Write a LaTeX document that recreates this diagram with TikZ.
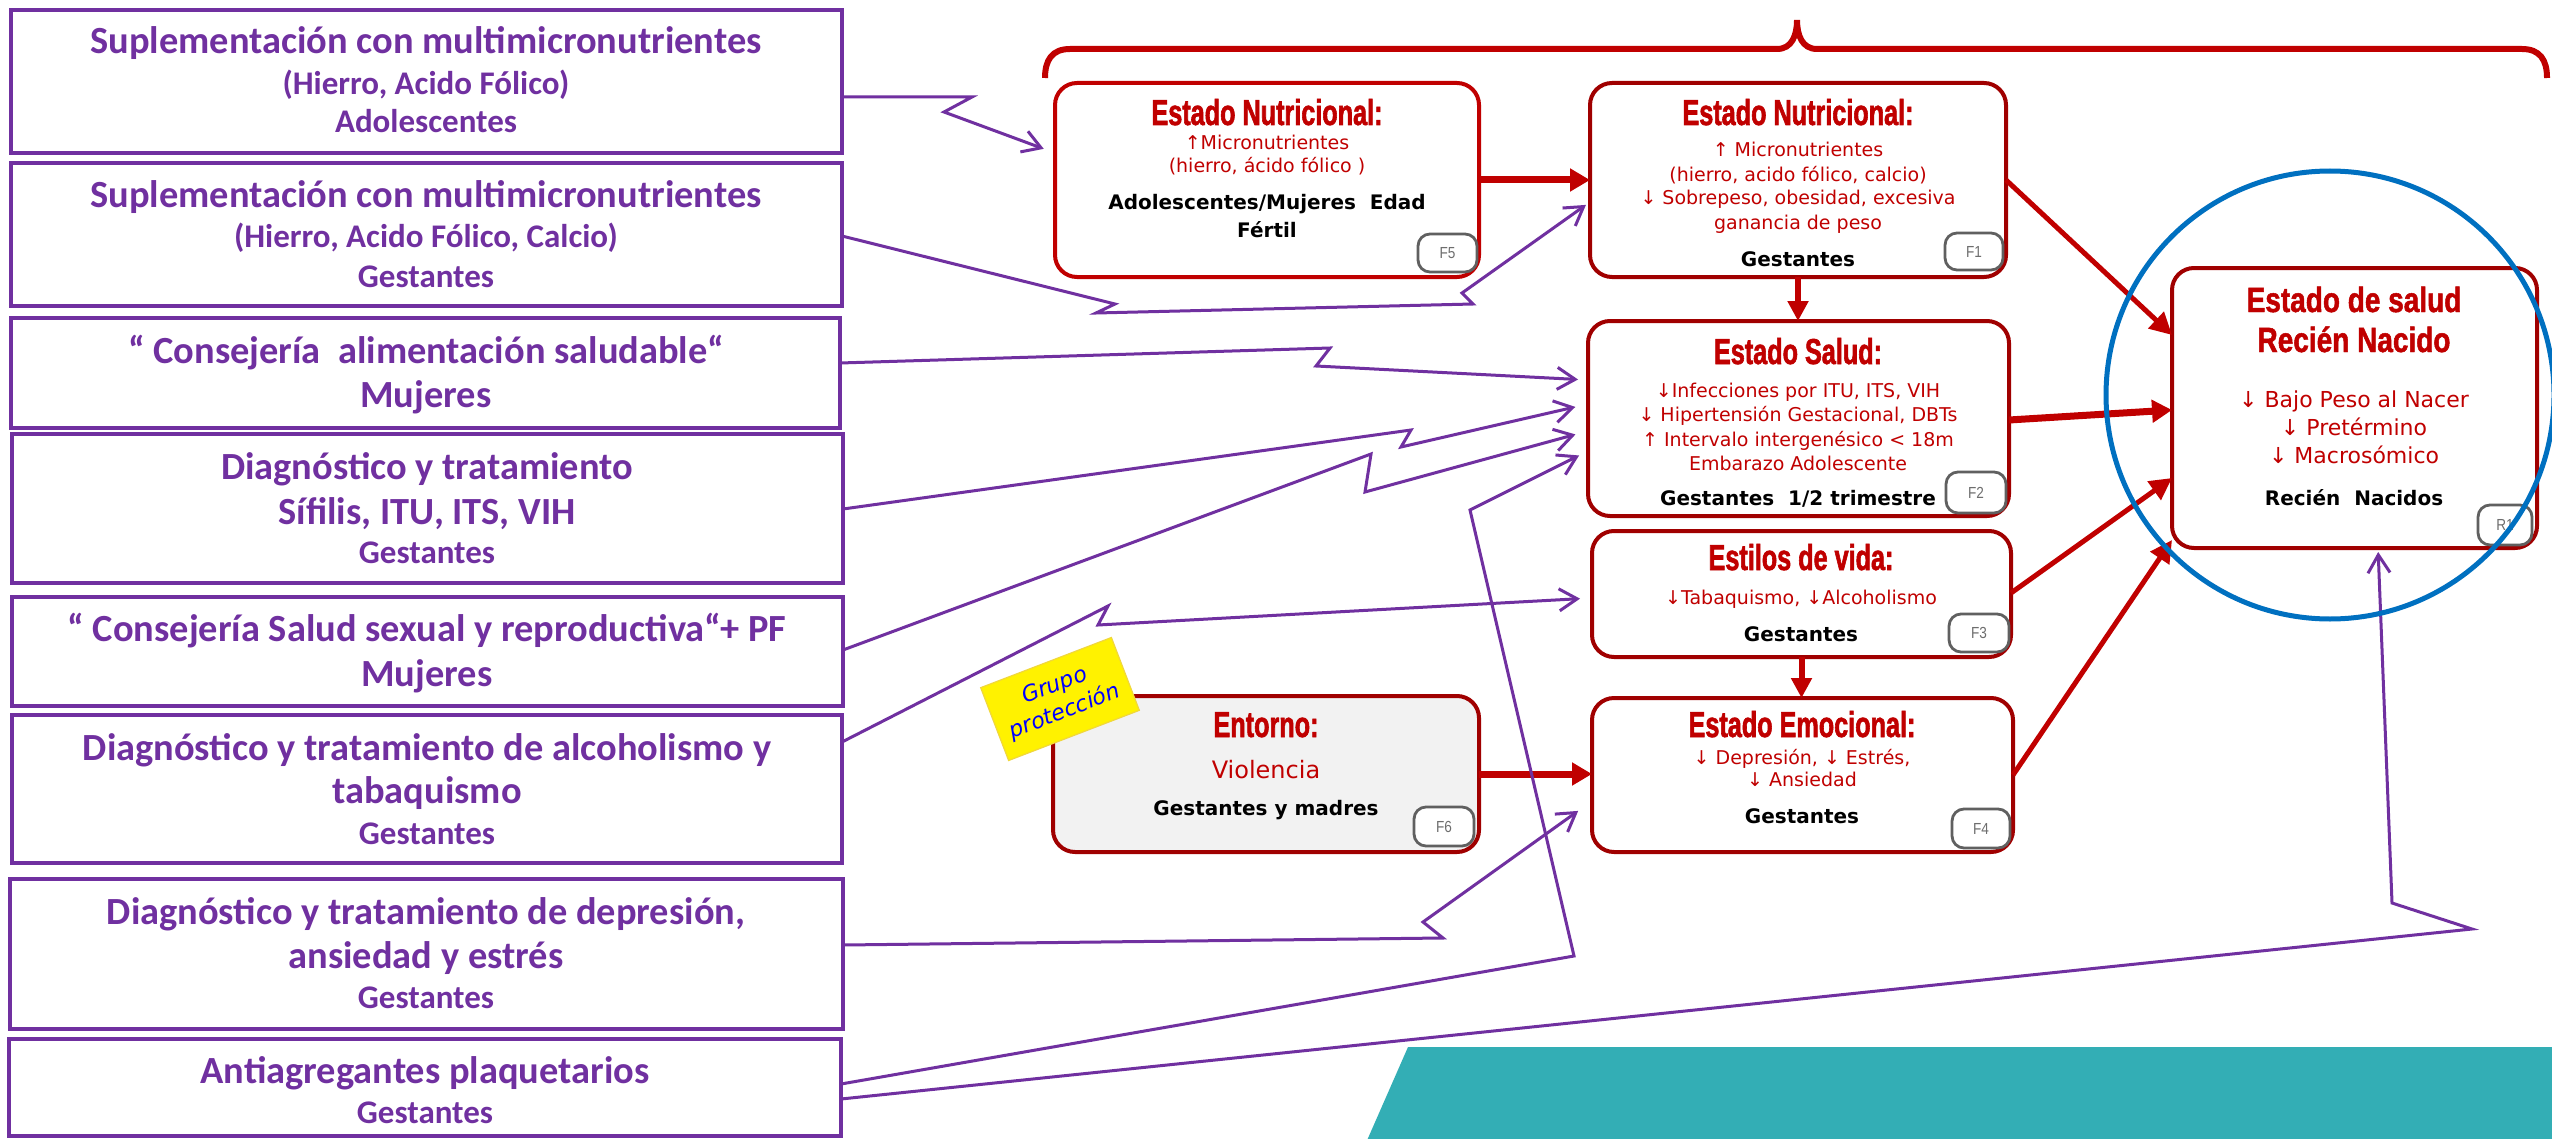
\documentclass[tikz,border=0pt]{standalone}
\usepackage{fontspec}
\setmainfont{DejaVu Sans}
\newfontfamily\calib{Carlito}
\newfontfamily\ttlf{Liberation Sans}[FakeStretch=0.7,FakeBold=1.6]
\newfontfamily\rttlf{Liberation Sans}[FakeStretch=0.8,FakeBold=1.4]
\newfontfamily\dvf{DejaVu Sans}
\newfontfamily\tagfont{Liberation Sans}[FakeStretch=0.85]
\usetikzlibrary{arrows.meta,fit,calc}
\definecolor{pur}{RGB}{112,48,160}
\definecolor{rd}{RGB}{192,0,0}
\definecolor{drd}{RGB}{160,0,0}
\definecolor{blu}{RGB}{0,112,192}
\definecolor{tealc}{RGB}{51,174,181}
\definecolor{taggray}{RGB}{96,96,96}
\definecolor{tagtxt}{RGB}{110,110,110}
\definecolor{lgray}{RGB}{242,242,242}
\begin{document}
\begin{tikzpicture}[x=0.5pt,y=-0.5pt,
  lbox/.style={draw=pur, line width=2pt, inner sep=0pt, outer sep=0pt},
  fbox/.style={draw=drd, line width=2pt, rounded corners=11pt, inner sep=0pt, outer sep=0pt, fill=white},
  tagbox/.style={draw=taggray, line width=1.4pt, rounded corners=6pt, fill=white, inner sep=0pt, outer sep=0pt},
  tagtx/.style={inner sep=0pt, text=tagtxt, font=\tagfont\fontsize{8}{9}\selectfont},
  lt/.style={anchor=base, inner sep=0pt, text=pur, font=\calib\bfseries\fontsize{19.2}{21}\selectfont},
  ls/.style={anchor=base, inner sep=0pt, text=pur, font=\calib\bfseries\fontsize{16.5}{18}\selectfont},
  ttl/.style={anchor=base, inner sep=0pt, text=rd, font=\ttlf\bfseries\fontsize{18}{20}\selectfont},
  rttl/.style={anchor=base, inner sep=0pt, text=rd, font=\rttlf\bfseries\fontsize{17.5}{19}\selectfont},
  rt/.style={anchor=base, inner sep=0pt, text=rd, font=\dvf\fontsize{9.5}{11}\selectfont},
  rtb/.style={anchor=base, inner sep=0pt, text=rd, font=\dvf\fontsize{11}{13}\selectfont},
  rtv/.style={anchor=base, inner sep=0pt, text=rd, font=\dvf\fontsize{12}{14}\selectfont},
  bt/.style={anchor=base, inner sep=0pt, text=black, font=\dvf\bfseries\fontsize{10}{12}\selectfont},
  thickarr/.style={draw=rd, line width=3.5pt, -{Triangle[length=10pt,width=11pt]}},
  medarr/.style={draw=rd, line width=3pt, -{Triangle[length=10pt,width=10pt]}},
  rarr/.style={draw=rd, line width=2.5pt, -{Triangle[length=11pt,width=11pt]}},
  parr/.style={draw=pur, line width=1.5pt, -{Straight Barb[length=9pt,width=11pt]}},
  note/.style={fill=yellow, draw={rgb,255:red,240;green,215;blue,60}, line width=0.6pt, inner sep=0pt, text=blue, font=\dvf\itshape\fontsize{11}{14}\selectfont, align=center}
]
\useasboundingbox (0,0) rectangle (2552,1139);
\fill[white] (0,0) rectangle (2552,1139);
\fill[tealc] (1408,1047) -- (2560,1047) -- (2560,1145) -- (1365,1145) -- cycle;

% ---------- left boxes ----------
\node[lbox, fit={(11,10)(842,153)}] (b1) {};
\node[lt] (b1a) at (426,54) {Suplementación con multimicronutrientes};
\node[ls] (b1b) at (426,95) {(Hierro, Acido Fólico)};
\node[ls] (b1c) at (426,133) {Adolescentes};

\node[lbox, fit={(11,163)(842,306)}] (b2) {};
\node[lt] (b2a) at (426,208) {Suplementación con multimicronutrientes};
\node[ls] (b2b) at (426,248) {(Hierro, Acido Fólico, Calcio)};
\node[ls] (b2c) at (426,287) {Gestantes};

\node[lbox, fit={(11,318)(840,428)}] (b3) {};
\node[lt] (b3a) at (426,363) {“\ Consejería\ \ alimentación saludable“};
\node[lt] (b3b) at (426,407) {Mujeres};

\node[lbox, fit={(12,434)(843,583)}] (b4) {};
\node[lt] (b4a) at (427,479) {Diagnóstico y tratamiento};
\node[lt] (b4b) at (427,524) {Sífilis, ITU, ITS, VIH};
\node[ls] (b4c) at (427,563) {Gestantes};

\node[lbox, fit={(12,597)(843,706)}] (b5) {};
\node[lt] (b5a) at (427,641) {“ Consejería Salud sexual y reproductiva“+ PF};
\node[lt] (b5b) at (427,686) {Mujeres};

\node[lbox, fit={(12,715)(842,863)}] (b6) {};
\node[lt] (b6a) at (427,760) {Diagnóstico y tratamiento de alcoholismo y};
\node[lt] (b6b) at (427,803) {tabaquismo};
\node[ls] (b6c) at (427,844) {Gestantes};

\node[lbox, fit={(10,879)(843,1029)}] (b7) {};
\node[lt] (b7a) at (426,924) {Diagnóstico y tratamiento de depresión,};
\node[lt] (b7b) at (426,968) {ansiedad y estrés};
\node[ls] (b7c) at (426,1008) {Gestantes};

\node[lbox, fit={(9,1039)(841,1136)}] (b8) {};
\node[lt] (b8a) at (425,1083) {Antiagregantes plaquetarios};
\node[ls] (b8b) at (425,1123) {Gestantes};

% ---------- brace ----------
\draw[rd, line width=3pt] (1045,78) .. controls (1045,60) and (1052,49) .. (1070,49)
  -- (1777,49) .. controls (1792,49) and (1797,35) .. (1797,20)
  .. controls (1797,35) and (1802,49) .. (1817,49)
  -- (2522,49) .. controls (2540,49) and (2547,60) .. (2547,78);

% ---------- factor boxes ----------
\node[fbox, draw=rd, fit={(1055,83)(1479,277)}] (F5) {};
\node[ttl] (F5h) at (1267,125) {Estado Nutricional:};
\node[rt] (F5a) at (1267,150) {↑Micronutrientes};
\node[rt] (F5b) at (1267,173) {(hierro, ácido fólico )};
\node[bt] (F5c) at (1267,210) {Adolescentes/Mujeres\ \ Edad};
\node[bt] (F5d) at (1267,238) {Fértil};

\node[fbox, fit={(1590,83)(2006,277)}] (F1) {};
\node[ttl] (F1h) at (1798,125) {Estado Nutricional:};
\node[rt] (F1a) at (1798,157) {↑ Micronutrientes};
\node[rt] (F1b) at (1798,182) {(hierro, acido fólico, calcio)};
\node[rt] (F1c) at (1798,205) {↓ Sobrepeso, obesidad, excesiva};
\node[rt] (F1d) at (1798,230) {ganancia de peso};
\node[bt] (F1e) at (1798,266) {Gestantes};

\node[fbox, fit={(1588,321)(2009,516)}] (F2) {};
\node[ttl] (F2h) at (1798,364) {Estado Salud:};
\node[rt] (F2a) at (1798,397) {↓Infecciones por ITU, ITS, VIH};
\node[rt] (F2b) at (1798,421) {↓ Hipertensión Gestacional, DBTs};
\node[rt] (F2c) at (1798,446) {↑ Intervalo intergenésico < 18m};
\node[rt] (F2d) at (1798,470) {Embarazo Adolescente};
\node[bt] (F2e) at (1798,505) {Gestantes\ \ 1/2 trimestre};

\node[fbox, fit={(1592,531)(2011,657)}] (F3) {};
\node[ttl] (F3h) at (1801,570) {Estilos de vida:};
\node[rt] (F3a) at (1801,604) {↓Tabaquismo, ↓Alcoholismo};
\node[bt] (F3b) at (1801,641) {Gestantes};

\node[fbox, fit={(1592,698)(2013,852)}] (F4) {};
\node[ttl] (F4h) at (1802,737) {Estado Emocional:};
\node[rt] (F4a) at (1802,764) {↓ Depresión, ↓ Estrés,};
\node[rt] (F4b) at (1802,786) {↓ Ansiedad};
\node[bt] (F4c) at (1802,823) {Gestantes};

\node[fbox, fill=lgray, fit={(1053,696)(1479,852)}] (F6) {};
\node[ttl] (F6h) at (1266,737) {Entorno:};
\node[rtv] (F6a) at (1266,778) {Violencia};
\node[bt] (F6b) at (1266,815) {Gestantes y madres};

\node[fbox, fit={(2172,268)(2537,548)}] (R1) {};
\node[rttl] (R1h) at (2354,312) {Estado de salud};
\node[rttl] (R1i) at (2354,352) {Recién Nacido};
\node[rtb] (R1a) at (2354,407) {↓ Bajo Peso al Nacer};
\node[rtb] (R1b) at (2354,435) {↓ Pretérmino};
\node[rtb] (R1c) at (2354,463) {↓ Macrosómico};
\node[bt] (R1d) at (2354,505) {Recién\ \ Nacidos};

% ---------- tags ----------
\node[tagbox, fit={(1418,234)(1477,272)}] (t5) {};
\node[tagtx] (t5x) at (t5.center) {F5};
\node[tagbox, fit={(1945,233)(2003,270)}] (t1) {};
\node[tagtx] (t1x) at (t1.center) {F1};
\node[tagbox, fit={(1946,472)(2006,513)}] (t2) {};
\node[tagtx] (t2x) at (t2.center) {F2};
\node[tagbox, fit={(1949,614)(2009,652)}] (t3) {};
\node[tagtx] (t3x) at (t3.center) {F3};
\node[tagbox, fit={(1952,809)(2010,848)}] (t4) {};
\node[tagtx] (t4x) at (t4.center) {F4};
\node[tagbox, fit={(1414,807)(1474,846)}] (t6) {};
\node[tagtx] (t6x) at (t6.center) {F6};
\node[tagbox, fit={(2478,505)(2532,545)}] (tr) {};
\node[tagtx] (trx) at (tr.center) {R1};

% ---------- red arrows ----------
\draw[thickarr] (F5.east |- 0,180) -- (F1.west |- 0,180);
\draw[thickarr] (F6.east |- 0,774) -- (F4.west |- 0,774);
\draw[medarr] (F1.south) -- (F1.south |- F2.north);
\draw[medarr] (F3.south) -- (F3.south |- F4.north);
\draw[rarr] (F1.east |- 0,180) -- (R1.west |- 0,335);
\draw[thickarr] (F2.east |- 0,420) -- (R1.west |- 0,410);
\draw[rarr] (F3.east |- 0,593) -- (R1.west |- 0,478);
\draw[rarr] (F4.east |- 0,775) -- (R1.west |- 0,540);

% ---------- purple connectors ----------
\draw[parr, shorten >=6pt] (b1.east |- 0,97) -- (972,97) -- (944,112) -- (F5.west |- 0,153);
\draw[parr, shorten >=2.5pt] (b2.east |- 0,236) -- (1115,304) -- (1096,313) -- (1473,304) -- (1462,293) -- (F1.west |- 0,202);
\draw[parr, shorten >=5pt] (b3.east |- 0,363) -- (1330,348) -- (1316,366) -- (F2.west |- 0,380);
\draw[parr, shorten >=6.5pt] (b4.east |- 0,509) -- (1411,430) -- (1401,447) -- (F2.west |- 0,404);
\draw[parr, shorten >=6.5pt] (b5.east |- 0,650) -- (1371,454) -- (1365,492) -- (F2.west |- 0,431);
\draw[parr, shorten >=5pt] (b8.east |- 0,1084) -- (1574,956) -- (1470,510) -- (F2.west |- 0,451);
\draw[parr, shorten >=6pt] (b6.east |- 0,742) -- (1108,606) -- (1098,625) -- (F3.west |- 0,598);
\draw[parr, shorten >=8.5pt] (b7.east |- 0,945) -- (1443,938) -- (1423,922) -- (F4.west |- 0,801);
\draw[parr, shorten >=2pt] (b8.east |- 0,1099) -- (2472,929) -- (2392,903) -- (2378,0 |- R1.south);

% ---------- sticky note ----------
\node[note, rotate=21, minimum width=70pt, minimum height=39pt] (note) at (1060,699) {Grupo\\protección};

% ---------- blue circle ----------
\draw[blu, line width=2.5pt] (2330,395) circle [radius=224];
\end{tikzpicture}
\end{document}
